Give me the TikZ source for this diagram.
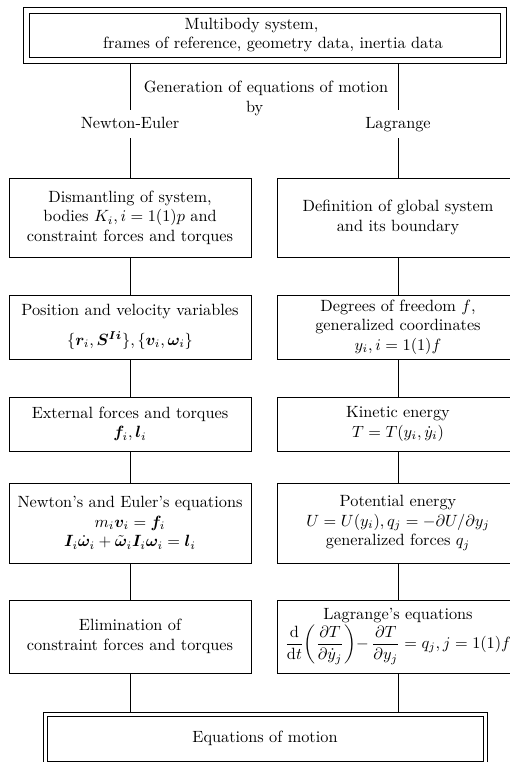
\documentclass[tikz,border=0pt]{standalone}
\usepackage{amsmath,bm}
\def\pxu{0.614pt}
\begin{document}
\begin{tikzpicture}[x=\pxu,y=-\pxu,line width=0.5pt,
  box/.style={draw, align=center, inner sep=0pt, minimum width=242*\pxu},
  lab/.style={inner sep=0pt, minimum height=28*\pxu, text height=7pt, text depth=2pt},
  frame/.style={draw, inner sep=0pt}]
\useasboundingbox (0,0) rectangle (510,762);
% top box
\node[frame, minimum width=483*\pxu, minimum height=56*\pxu] (top) at (264.5,35) {};
\node[frame, minimum width=471*\pxu, minimum height=44*\pxu, align=center] (topin) at (264.5,35)
  {\hspace*{-16pt}Multibody system,\\\hspace*{10.5pt}frames of reference, geometry data, inertia data};
% labels
\node[align=center, inner sep=0pt] (gen) at (266,98.5) {Generation of equations of motion\\\hspace*{-14pt}by};
\node[lab] (ne) at (130,124) {Newton-Euler};
\node[lab] (la) at (398,124) {Lagrange};
% left column
\node[box, minimum height=79*\pxu] (l1) at (130,217.5) {Dismantling of system,\\ bodies $K_i, i=1(1)p$ and\\ constraint forces and torques};
\node[box, minimum height=64*\pxu] (l2) at (130,327) {Position and velocity variables\\[6pt] $\{\bm{r}_i,\bm{S}^{\bm{Ii}}\},\{\bm{v}_i,\bm{\omega}_i\}$};
\node[box, minimum height=54*\pxu] (l3) at (130,424) {External forces and torques\\ $\bm{f}_i,\bm{l}_i$};
\node[box, minimum height=80*\pxu] (l4) at (130,523) {Newton's and Euler's equations\\ $m_i\bm{v}_i=\bm{f}_i$\\ $\bm{I}_i\dot{\bm{\omega}}_i+\tilde{\bm{\omega}}_i\bm{I}_i\bm{\omega}_i=\bm{l}_i$};
\node[box, minimum height=73*\pxu] (l5) at (130,636.5) {Elimination of\\ constraint forces and torques};
% right column
\node[box, minimum height=79*\pxu] (r1) at (398,217.5) {Definition of global system\\ and its boundary};
\node[box, minimum height=64*\pxu] (r2) at (398,327) {Degrees of freedom $f$,\\ generalized coordinates\\ $y_i, i=1(1)f$};
\node[box, minimum height=54*\pxu] (r3) at (398,424) {Kinetic energy\\ $T=T(y_i,\dot{y}_i)$};
\node[box, minimum height=80*\pxu] (r4) at (398,523) {Potential energy\\ $U=U(y_i), q_j=-\partial U/\partial y_j$\\ generalized forces $q_j$};
\node[box, minimum height=73*\pxu] (r5) at (398,636.5) {Lagrange's equations\\ $\displaystyle\frac{\mathrm{d}}{\mathrm{d}t}\!\left(\frac{\partial T}{\partial\dot{y}_j}\right)\!{-}\,\frac{\partial T}{\partial y_j}=q_j, j=1(1)f$};
% bottom box
\node[frame, minimum width=444*\pxu, minimum height=53*\pxu] (bot) at (265,738.5) {};
\node[frame, minimum width=436*\pxu, minimum height=45*\pxu] (botin) at (265,738.5) {Equations of motion};
% connectors
\draw (ne |- top.south) -- (ne.north);
\draw (la |- top.south) -- (la.north);
\draw (ne) -- (l1);
\draw (la) -- (r1);
\draw (l1) -- (l2); \draw (l2) -- (l3); \draw (l3) -- (l4); \draw (l4) -- (l5);
\draw (r1) -- (r2); \draw (r2) -- (r3); \draw (r3) -- (r4); \draw (r4) -- (r5);
\draw (l5) -- (l5 |- bot.north);
\draw (r5) -- (r5 |- bot.north);
\end{tikzpicture}
\end{document}
